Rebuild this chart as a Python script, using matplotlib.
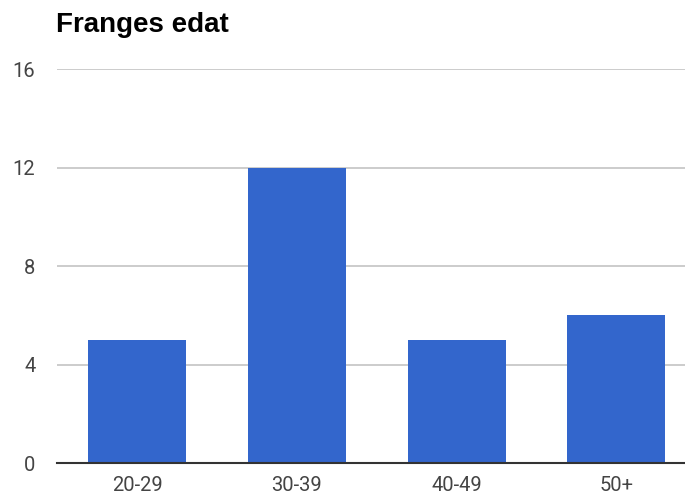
import matplotlib.pyplot as plt

# age ranges and respondent counts
ranges = ["20-29", "30-39", "40-49", "50+"]
counts = [5, 12, 5, 6]
y_ticks = [0, 4, 8, 12, 16]

fig = plt.figure(figsize=(6.85, 4.98), dpi=100)
# plot area runs a little past the right edge of the figure
ax = fig.add_axes([57.5 / 685, 35 / 498, 638.5 / 685, 394 / 498])

x = range(len(ranges))
ax.bar(x, counts, width=0.614, color="#3366cc", zorder=2)

ax.set_xlim(-0.5, len(ranges) - 0.5)
ax.set_ylim(0, 16)
ax.set_yticks(y_ticks)
ax.set_xticks(list(x))
ax.set_xticklabels(ranges)

ax.grid(axis="y", color="#cccccc", linewidth=1.4, zorder=0)
for side in ["top", "right", "left"]:
    ax.spines[side].set_visible(False)
ax.spines["bottom"].set_color("#333333")
ax.spines["bottom"].set_linewidth(1.5)
ax.spines["bottom"].set_zorder(3)

ax.tick_params(axis="both", length=0, labelsize=14.5, labelcolor="#444444")
ax.tick_params(axis="y", pad=16)
ax.tick_params(axis="x", pad=9)
for lab in ax.get_xticklabels() + ax.get_yticklabels():
    lab.set_family("Roboto")

fig.text(56 / 685, 1 - 32 / 498, "Franges edat", family="Liberation Sans",
         fontweight="bold", fontsize=20, color="#000000", va="baseline")

plt.savefig("out.png", dpi=100)
